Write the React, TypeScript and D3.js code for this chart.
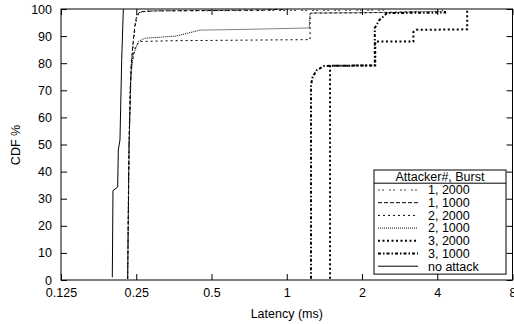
import React, { useEffect, useRef } from "react";
import * as d3 from "d3";

type Pt = [number, number];

// latency (ms), CDF %
const oneAtk2000: Pt[] = [[0.231, 0.5], [0.234, 50], [0.239, 80], [0.244, 88], [0.249, 95], [0.256, 98.5], [0.27, 99.3], [1.5, 99.5], [2.5, 99.6], [2.5, 100]];
const oneAtk1000: Pt[] = [[0.231, 0.5], [0.234, 50], [0.238, 78], [0.243, 88], [0.247, 94], [0.251, 97.5], [0.259, 99], [0.3, 99.3], [0.8, 99.6], [1.0, 100]];
const twoAtk2000: Pt[] = [[0.231, 0.5], [0.233, 40], [0.236, 70], [0.24, 80], [0.248, 86], [0.258, 88], [0.35, 88.3], [1.24, 88.7], [1.24, 98.2], [1.26, 98.5], [2.0, 98.6], [3.3, 99], [3.3, 100]];
const twoAtk1000: Pt[] = [[0.231, 0.5], [0.234, 50], [0.238, 75], [0.243, 83], [0.255, 88], [0.27, 89.2], [0.36, 90], [0.45, 92.2], [0.7, 92.5], [1.23, 93], [1.24, 98.5], [2.6, 98.7], [4.2, 99.2], [4.2, 100]];
const threeAtk2000: Pt[] = [[1.49, 0.5], [1.49, 79], [2.26, 79.2], [2.26, 88], [3.21, 88], [3.21, 91.5], [3.3, 92.3], [5.27, 92.5], [5.27, 100]];
const threeAtk1000: Pt[] = [[1.25, 0.5], [1.25, 72], [1.27, 75], [1.32, 77.5], [1.41, 79], [2.25, 79.2], [2.25, 93], [2.35, 96], [2.52, 98.5], [4.3, 98.7], [4.3, 100]];
const noAttack: Pt[] = [[0.2005, 1], [0.2018, 33], [0.2107, 34.3], [0.2119, 48], [0.2152, 51.7], [0.2186, 81], [0.2219, 99.6], [0.2219, 100]];

const seriesNames = ["1, 2000", "1, 1000", "2, 2000", "2, 1000", "3, 2000", "3, 1000", "no attack"];
const seriesData = [oneAtk2000, oneAtk1000, twoAtk2000, twoAtk1000, threeAtk2000, threeAtk1000, noAttack];
const xTicks = [0.125, 0.25, 0.5, 1, 2, 4, 8];
const yTicks = [0, 10, 20, 30, 40, 50, 60, 70, 80, 90, 100];

const styles = [
  { color: "#444", width: 1, dash: "2,2,2,5" },
  { color: "#000", width: 1, dash: "4,2" },
  { color: "#000", width: 1, dash: "2,3" },
  { color: "#000", width: 1, dash: "1,1" },
  { color: "#000", width: 2, dash: "2,2.5" },
  { color: "#000", width: 2, dash: "3,2,1.5,2" },
  { color: "#000", width: 1, dash: null as string | null },
];

const W = 514, H = 324;
const m = { left: 61, right: 1.5, top: 9, bottom: 44 };
const FONT = "'Liberation Sans', Arial, Helvetica, sans-serif";

const App: React.FC = () => {
  const ref = useRef<SVGSVGElement | null>(null);

  useEffect(() => {
    if (!ref.current) return;
    const svg = d3.select(ref.current);
    svg.selectAll("*").remove();

    const x = d3.scaleLog().base(2).domain([0.125, 8]).range([m.left, W - m.right]);
    const y = d3.scaleLinear().domain([0, 100]).range([H - m.bottom, m.top]);

    svg.append("clipPath").attr("id", "clip")
      .append("rect")
      .attr("x", m.left).attr("y", m.top)
      .attr("width", W - m.left - m.right).attr("height", H - m.top - m.bottom);

    const fmt = (d: any) => String(d);

    // axes, gnuplot-style inward ticks on all sides
    const bottom = svg.append("g").attr("transform", `translate(0,${H - m.bottom})`)
      .call(d3.axisBottom(x).tickValues(xTicks).tickFormat(fmt).tickSizeInner(-6).tickSizeOuter(0).tickPadding(8));
    const left = svg.append("g").attr("transform", `translate(${m.left},0)`)
      .call(d3.axisLeft(y).tickValues(yTicks).tickFormat(fmt).tickSizeInner(-6).tickSizeOuter(0).tickPadding(9));
    const top = svg.append("g").attr("transform", `translate(0,${m.top})`)
      .call(d3.axisTop(x).tickValues(xTicks).tickFormat(() => "").tickSizeInner(-6).tickSizeOuter(0));
    const right = svg.append("g").attr("transform", `translate(${W - m.right},0)`)
      .call(d3.axisRight(y).tickValues(yTicks).tickFormat(() => "").tickSizeInner(-6).tickSizeOuter(0));

    [bottom, left, top, right].forEach(g => {
      g.select(".domain").remove();
      g.selectAll("text").attr("font-family", FONT).attr("font-size", 12.5).attr("fill", "#000");
      g.selectAll("line").attr("stroke", "#000");
    });

    svg.append("rect")
      .attr("x", m.left).attr("y", m.top)
      .attr("width", W - m.left - m.right).attr("height", H - m.top - m.bottom)
      .attr("fill", "none").attr("stroke", "#000").attr("stroke-width", 1);

    const line = d3.line<Pt>().x(d => x(d[0])).y(d => y(d[1]));

    const plot = svg.append("g").attr("clip-path", "url(#clip)");
    seriesData.forEach((data, i) => {
      const s = styles[i];
      plot.append("path")
        .attr("d", line(data)!)
        .attr("fill", "none")
        .attr("stroke", s.color)
        .attr("stroke-width", s.width)
        .attr("stroke-dasharray", s.dash);
    });

    // legend
    const lx = 374, ly = 170, lw = 132, rowH = 12.7;
    const lg = svg.append("g");
    lg.append("rect")
      .attr("x", lx).attr("y", ly).attr("width", lw).attr("height", rowH * 8 + 2.5)
      .attr("fill", "#fff").attr("stroke", "#000");
    lg.append("line")
      .attr("x1", lx).attr("x2", lx + lw)
      .attr("y1", ly + rowH + 0.5).attr("y2", ly + rowH + 0.5)
      .attr("stroke", "#000");
    lg.append("text")
      .attr("x", lx + lw / 2).attr("y", ly + 6.8).attr("dy", "0.35em")
      .attr("text-anchor", "middle")
      .attr("font-family", FONT).attr("font-size", 12.5)
      .text("Attacker#, Burst");
    seriesNames.forEach((name, i) => {
      const s = styles[i];
      const cy = ly + 20 + i * rowH;
      lg.append("line")
        .attr("x1", lx + 4).attr("x2", lx + 44)
        .attr("y1", cy).attr("y2", cy)
        .attr("stroke", s.color).attr("stroke-width", s.width)
        .attr("stroke-dasharray", s.dash);
      lg.append("text")
        .attr("x", lx + 54).attr("y", cy).attr("dy", "0.35em")
        .attr("font-family", FONT).attr("font-size", 12.5)
        .text(name);
    });

    // axis titles
    svg.append("text")
      .attr("x", (m.left + W - m.right) / 2).attr("y", 318)
      .attr("text-anchor", "middle")
      .attr("font-family", FONT).attr("font-size", 12.5)
      .text("Latency (ms)");
    svg.append("text")
      .attr("transform", `translate(20,145) rotate(-90)`)
      .attr("text-anchor", "middle")
      .attr("font-family", FONT).attr("font-size", 12.5)
      .text("CDF %");
  }, []);

  return (
    <div style={{ position: "absolute", left: 0, top: 0 }}>
      <svg ref={ref} width={W} height={H} style={{ display: "block", background: "#fff" }} />
    </div>
  );
};

export default App;
